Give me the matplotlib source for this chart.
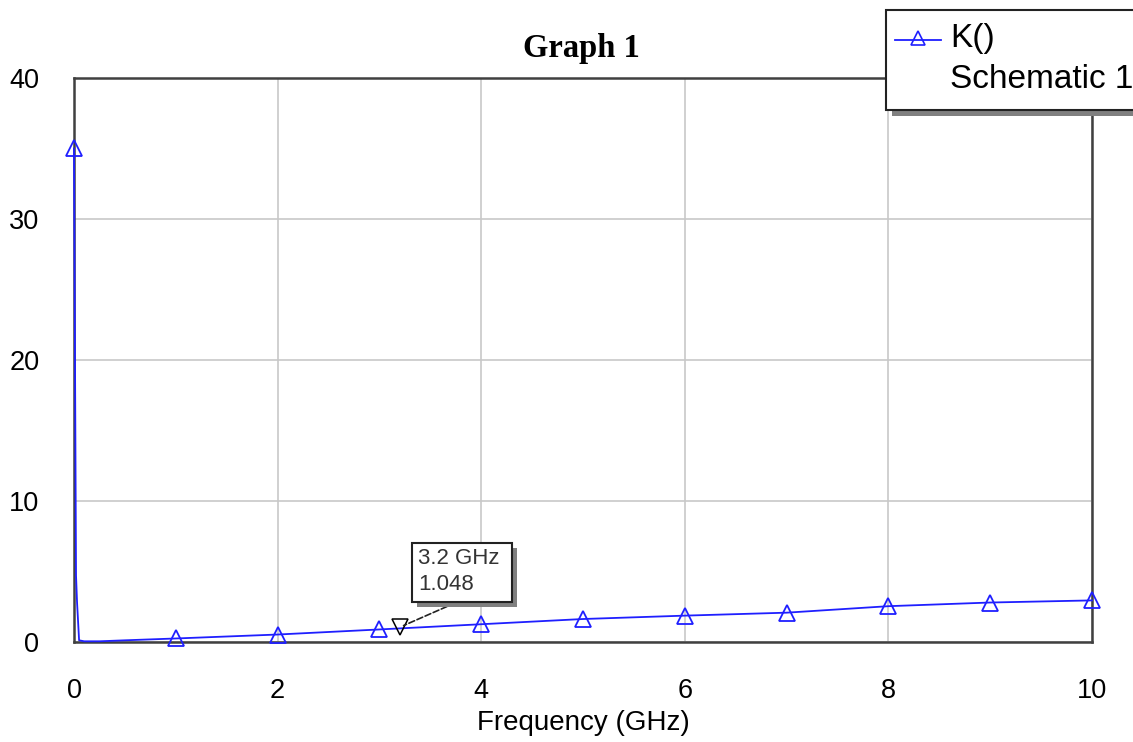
import matplotlib
matplotlib.use("Agg")
import matplotlib.pyplot as plt
from matplotlib.patches import Rectangle
from matplotlib.lines import Line2D

# K() vs frequency
freq_ghz = [0, 0.02, 0.03, 0.05, 0.1, 0.25, 0.5, 1, 2, 3, 4, 5, 6, 7, 8, 9, 10]
k_values = [35.0, 4.7, 2.8, 0.12, 0.05, 0.05, 0.12, 0.25, 0.53, 0.89, 1.26, 1.63, 1.87, 2.08, 2.54, 2.8, 2.95]
marker_freqs = [0, 1, 2, 3, 4, 5, 6, 7, 8, 9, 10]

marker_f = 3.2
marker_k = 1.048

x_ticks = [0, 2, 4, 6, 8, 10]
y_ticks = [0, 10, 20, 30, 40]

W, H = 1133, 742


def fig_xy(px, py):
    # pixel position measured from the top-left corner -> figure fraction
    return px / W, 1 - py / H


fig = plt.figure(figsize=(W / 100, H / 100), dpi=100)
ax = fig.add_axes([74 / W, 1 - 642 / H, (1092 - 74) / W, (642 - 78) / H])

blue = "#1f1fff"
mark_idx = [freq_ghz.index(f) for f in marker_freqs]
ax.plot(freq_ghz, k_values, color=blue, lw=1.3, marker="^", markevery=mark_idx,
        markersize=12, markerfacecolor="none", markeredgecolor=blue, markeredgewidth=1.3,
        clip_on=False, zorder=3)

# marker at 3.2 GHz
ax.plot([marker_f], [marker_k], marker="v", markersize=11, markerfacecolor="none",
        markeredgecolor="black", markeredgewidth=1.1, zorder=4)
ax.annotate("", xy=(marker_f, marker_k), xytext=fig_xy(455, 603), textcoords="figure fraction",
            arrowprops=dict(arrowstyle="-", ls="--", color="#222222", lw=1.2,
                            shrinkA=0, shrinkB=3), zorder=5)
# annotation box with its shadow
fig.patches.append(Rectangle(fig_xy(417, 607), 100 / W, 59 / H, transform=fig.transFigure,
                             fc="#808080", ec="none", zorder=5))
fig.patches.append(Rectangle(fig_xy(412, 602), 100 / W, 59 / H, transform=fig.transFigure,
                             fc="white", ec="#222222", lw=1.5, zorder=6))
fig.text(*fig_xy(418, 559), f"{marker_f} GHz", fontsize=16, family="Liberation Sans",
         color="#333333", va="center", zorder=7)
fig.text(*fig_xy(418, 585), f"{marker_k}", fontsize=16, family="Liberation Sans",
         color="#333333", va="center", zorder=7)

ax.set_xlim(0, 10)
ax.set_ylim(0, 40)
ax.set_xticks(x_ticks)
ax.set_yticks(y_ticks)
ax.set_xticklabels([str(v) for v in x_ticks], fontsize=19.5, family="Liberation Sans")
ax.set_yticklabels([str(v) for v in y_ticks], fontsize=19.5, family="Liberation Sans")
ax.tick_params(length=0)
ax.tick_params(axis="x", pad=26)
ax.tick_params(axis="y", pad=25)
ax.grid(True, color="#c8c8c8", lw=1.2)
ax.set_axisbelow(True)
for sp in ax.spines.values():
    sp.set_color("#404040")
    sp.set_linewidth(1.8)

ax.set_xlabel("Frequency (GHz)", fontsize=20, family="Liberation Sans", labelpad=4)
fig.text(*fig_xy(581, 48), "Graph 1", fontsize=23.5, fontweight="bold",
         family="Liberation Serif", ha="center", va="center")

# legend box in the top-right corner
fig.patches.append(Rectangle(fig_xy(892, 116), 300 / W, 106 / H, transform=fig.transFigure,
                             fc="#808080", ec="none", zorder=5))
fig.patches.append(Rectangle(fig_xy(886, 110), 300 / W, 100 / H, transform=fig.transFigure,
                             fc="white", ec="#222222", lw=1.5, zorder=6))
lx0, ly = fig_xy(895, 40)
lx1, _ = fig_xy(941, 40)
fig.lines.append(Line2D([lx0, lx1], [ly, ly], transform=fig.transFigure,
                        color=blue, lw=1.3, zorder=7))
fig.lines.append(Line2D([fig_xy(918, 38)[0]], [fig_xy(918, 38)[1]], transform=fig.transFigure,
                        color=blue, marker="^", markersize=10, markerfacecolor="none",
                        markeredgewidth=1.2, zorder=7))
fig.text(*fig_xy(950, 38), "K()", fontsize=24, family="Liberation Sans", va="center",
         zorder=8)
fig.text(*fig_xy(950, 80), "Schematic 1", fontsize=24, family="Liberation Sans",
         va="center", zorder=8)

fig.savefig("out.png", dpi=100)
